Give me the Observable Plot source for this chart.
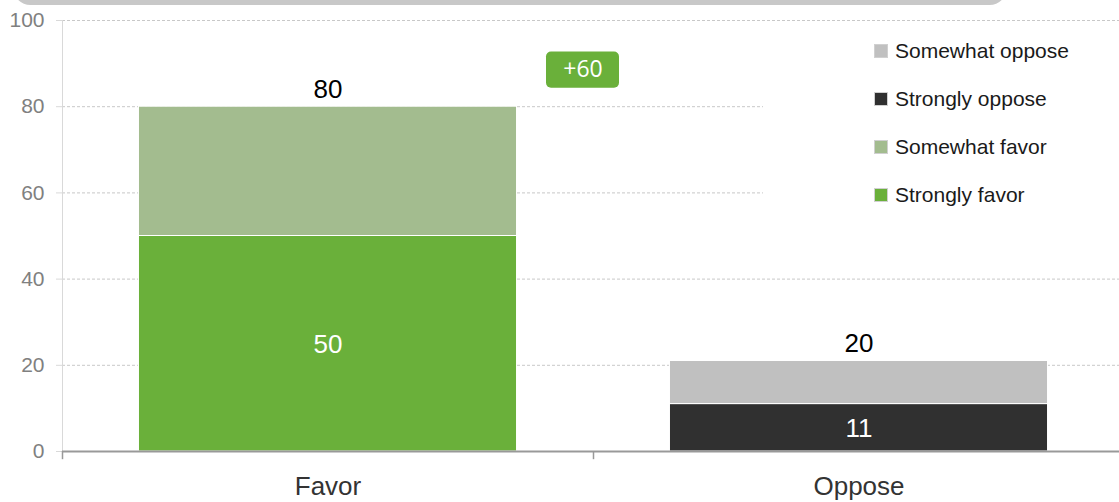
<!DOCTYPE html>
<html>
<head>
<meta charset="utf-8">
<script src="https://cdn.jsdelivr.net/npm/d3@7"></script>
<script src="https://cdn.jsdelivr.net/npm/@observablehq/plot@0.6"></script>
<style>
  html, body { margin: 0; padding: 0; overflow: hidden; background: #fff; }
  #wrap { position: relative; width: 1119px; height: 502px; overflow: hidden; font-family: "Liberation Sans", Arial, sans-serif; }
  #topbar { position: absolute; left: 13px; top: -30px; width: 994px; height: 34.5px; background: #c8c8c8; border-radius: 18px; }
  #legend { position: absolute; left: 763px; top: 27px; width: 356px; height: 192px; background: #fff; box-sizing: border-box; padding-left: 111px; }
  .item { height: 48px; display: flex; align-items: center; font-size: 21px; color: #1a1a1a; }
  .sw { width: 12px; height: 12px; border: 1px solid #d0d0d0; margin-right: 7px; flex: none; }
  #chart { position: absolute; left: 0; top: 0; width: 1124px; }
  #chart svg { max-width: none !important; }
</style>
</head>
<body>
<div id="wrap">
  <div id="chart"></div>
  <div id="topbar"></div>
  <div id="legend"></div>
</div>
<script>
// ---- data ----
const categories = ["Favor", "Oppose"];
const segments = ["Strongly favor", "Somewhat favor", "Strongly oppose", "Somewhat oppose"];
const segmentColors = ["#6ab03a", "#a3bc8f", "#303030", "#c0c0c0"];
const favorSegments = ["Strongly favor", "Somewhat favor"];
const favorValues = [50, 30];
const opposeSegments = ["Strongly oppose", "Somewhat oppose"];
const opposeValues = [11, 10];
const totalLabels = [80, 20];
const insideLabelSegments = ["Strongly favor", "Strongly oppose"];
const yTicks = [0, 20, 40, 60, 80, 100];
const legendOrder = ["Somewhat oppose", "Strongly oppose", "Somewhat favor", "Strongly favor"];
const badgeCategory = "Favor";
const badgeText = "+60";
const badgeRange = [84.3, 92.7];

// ---- build table ----
const data = [
  ...favorSegments.map((s, i) => ({category: "Favor", segment: s, value: favorValues[i]})),
  ...opposeSegments.map((s, i) => ({category: "Oppose", segment: s, value: opposeValues[i]}))
];
const sums = d3.rollup(data, v => d3.sum(v, d => d.value), d => d.category);
const totals = categories.map((c, i) => ({category: c, sum: sums.get(c), label: totalLabels[i]}));
const badge = [{category: badgeCategory, y1: badgeRange[0], y2: badgeRange[1], text: badgeText}];

const W = 1124, H = 502, mL = 62, mR = 0, mT = 20, mB = 51;
const step = (W - mL - mR) / categories.length;
const paddingInner = 0.288, paddingOuter = 0.144;
const bandwidth = step * (1 - paddingInner);
const halfStep = step / 2;
const badgeWidth = 73;
const badgeDx = 255;
const badgeInset = (bandwidth - badgeWidth) / 2;
const font = "'Liberation Sans', Arial, sans-serif";

const chart = Plot.plot({
  width: W, height: H,
  marginLeft: mL, marginRight: mR, marginTop: mT, marginBottom: mB,
  style: {fontFamily: font, background: "transparent", overflow: "visible", maxWidth: "none"},
  x: {domain: categories, paddingInner, paddingOuter, round: false, axis: null},
  y: {domain: [0, 100], axis: null},
  color: {domain: segments, range: segmentColors},
  marks: [
    Plot.gridY(yTicks.filter(t => t > 0), {stroke: "#c8c8c8", strokeOpacity: 1, strokeDasharray: "3,2"}),
    Plot.ruleX([categories[0]], {dx: -halfStep, y1: 0, y2: 100, stroke: "#d9d9d9"}),
    Plot.axisY({ticks: yTicks, tickSize: 6, tickPadding: 12, fontSize: 21, stroke: "#d9d9d9", fill: "#808080"}),
    Plot.barY(data, {x: "category", y: "value", fill: "segment", order: segments, stroke: "white", strokeWidth: 1}),
    Plot.text(data, Plot.stackY({
      x: "category", y: "value", z: "segment", order: segments,
      filter: d => insideLabelSegments.includes(d.segment),
      text: "value", fill: "white", fontSize: 26, dy: 1
    })),
    Plot.text(totals, {x: "category", y: "sum", text: "label", dy: -17, fontSize: 26, fill: "#000"}),
    Plot.ruleY([0], {stroke: "#999", strokeWidth: 2}),
    Plot.ruleX(categories, {dx: -halfStep, y1: 0, y2: -1.9, stroke: "#999", strokeWidth: 1.5}),
    Plot.text(categories, {x: d => d, y: 0, dy: 35, fontSize: 26, fill: "#333"}),
    Plot.barY(badge, {x: "category", y1: "y1", y2: "y2", dx: badgeDx, insetLeft: badgeInset, insetRight: badgeInset, rx: 5, fill: "#6ab03a"}),
    Plot.text(badge, {x: "category", y: d => (d.y1 + d.y2) / 2, text: "text", dx: badgeDx, fill: "white", fontSize: 23, fontFamily: "'Open Sans', sans-serif"})
  ]
});
document.getElementById("chart").appendChild(chart);

// legend
const legend = document.getElementById("legend");
legendOrder.forEach(s => {
  const row = document.createElement("div");
  row.className = "item";
  const sw = document.createElement("span");
  sw.className = "sw";
  sw.style.background = segmentColors[segments.indexOf(s)];
  const t = document.createElement("span");
  t.textContent = s;
  row.appendChild(sw);
  row.appendChild(t);
  legend.appendChild(row);
});
</script>
</body>
</html>
